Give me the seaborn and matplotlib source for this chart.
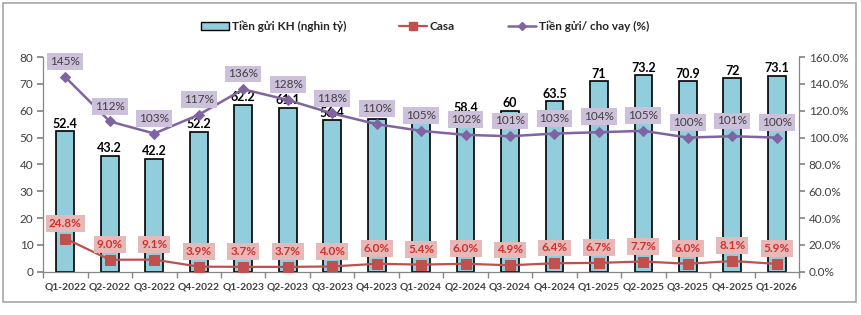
import numpy as np
import pandas as pd
import matplotlib.pyplot as plt
import matplotlib.ticker as mticker
from matplotlib.patches import Rectangle, Patch
from matplotlib.lines import Line2D
import seaborn as sns

quarters = ["Q1-2022", "Q2-2022", "Q3-2022", "Q4-2022", "Q1-2023", "Q2-2023",
            "Q3-2023", "Q4-2023", "Q1-2024", "Q2-2024", "Q3-2024", "Q4-2024",
            "Q1-2025", "Q2-2025", "Q3-2025", "Q4-2025", "Q1-2026"]
deposits = [52.4, 43.2, 42.2, 52.2, 62.2, 61.1, 56.4, 56.9, 55.4, 58.4, 60,
            63.5, 71, 73.2, 70.9, 72, 73.1]
# value labels as printed; two are hidden behind the ratio boxes in the source
deposit_labels = ["52.4", "43.2", "42.2", "52.2", "62.2", "61.1", "56.4", "",
                  "", "58.4", "60", "63.5", "71", "73.2", "70.9", "72", "73.1"]
casa = [24.8, 9.0, 9.1, 3.9, 3.7, 3.7, 4.0, 6.0, 5.4, 6.0, 4.9, 6.4, 6.7,
        7.7, 6.0, 8.1, 5.9]
ldr = [145, 112, 103, 117, 136, 128, 118, 110, 105, 102, 101, 103, 104, 105,
       100, 101, 100]

df = pd.DataFrame({"quarter": quarters, "deposits": deposits,
                   "casa": casa, "ldr": ldr})
df["pos"] = np.arange(len(df))

sns.set_theme(style="white")
plt.rcParams["font.family"] = ["Lato", "Noto Sans", "DejaVu Sans"]

BAR_C = "#92CDDC"
CASA_C = "#C0504D"
LDR_C = "#8064A2"
AXIS_C = "#868686"
TXT_C = "#404040"

fig = plt.figure(figsize=(8.62, 3.15), dpi=100)
ax = fig.add_axes([0.050, 0.137, 0.877, 0.682])

sns.barplot(data=df, x="quarter", y="deposits", color=BAR_C, saturation=1,
            edgecolor="black", linewidth=1.2, width=0.4, ax=ax, zorder=2)
for i, (v, lab) in enumerate(zip(deposits, deposit_labels)):
    if lab:
        ax.annotate(lab, (i, v), xytext=(0, 1), textcoords="offset points",
                    ha="center", va="bottom", fontsize=9, fontweight="bold",
                    color="black")

ax.set_xlim(-0.5, len(quarters) - 0.5)
ax.set_ylim(0, 80)
ax.set_yticks(range(0, 81, 10))
ax.set_xlabel("")
ax.set_ylabel("")

ax2 = ax.twinx()
sns.lineplot(data=df, x="pos", y="casa", color=CASA_C, marker="s",
             markersize=7, markeredgecolor=CASA_C, linewidth=1.6, ax=ax2)
sns.lineplot(data=df, x="pos", y="ldr", color=LDR_C, marker="D",
             markersize=5, markeredgecolor=LDR_C, linewidth=1.8, ax=ax2)
ax2.set_ylim(0, 160)
ax2.set_yticks(range(0, 161, 20))
ax2.yaxis.set_major_formatter(mticker.FuncFormatter(lambda v, p: f"{v:.1f}%"))
ax2.set_xlim(-0.5, len(quarters) - 0.5)
ax2.set_xlabel("")
ax2.set_ylabel("")

for i, v in enumerate(ldr):
    ax2.annotate(f"{v}%", (i, v), xytext=(0, 11), textcoords="offset points",
                 ha="center", va="center", fontsize=8.5, color=TXT_C,
                 bbox=dict(boxstyle="square,pad=0.25", fc="#CCC0DA", ec="none"))
for i, v in enumerate(casa):
    ax2.annotate(f"{v:.1f}%", (i, v), xytext=(0, 11), textcoords="offset points",
                 ha="center", va="center", fontsize=8.5, fontweight="bold",
                 color="#D0312D",
                 bbox=dict(boxstyle="square,pad=0.25", fc="#E6B9B8", ec="none"))

# axes styling, excel-like
for a in (ax, ax2):
    a.spines["top"].set_visible(False)
    for s in ("left", "right", "bottom"):
        a.spines[s].set_color(AXIS_C)
        a.spines[s].set_linewidth(0.9)
ax.spines["right"].set_visible(False)
ax2.spines["left"].set_visible(False)
ax2.spines["bottom"].set_visible(False)

ax.tick_params(axis="y", left=True, length=4, color=AXIS_C, labelsize=8.5,
               labelcolor=TXT_C, pad=3)
ax2.tick_params(axis="y", right=True, length=4, color=AXIS_C, labelsize=8.5,
                labelcolor=TXT_C, pad=3)
ax.set_xticks(np.arange(len(quarters)))
ax.set_xticklabels(quarters, fontsize=7.4, fontweight="bold", color=TXT_C)
ax.set_xticks(np.arange(-0.5, len(quarters), 1), minor=True)
ax.tick_params(axis="x", which="major", length=0, pad=8)
ax.tick_params(axis="x", which="minor", bottom=True, length=4, color=AXIS_C)
ax2.tick_params(axis="x", bottom=False, labelbottom=False)

handles = [
    Patch(facecolor=BAR_C, edgecolor="black", linewidth=1.0),
    Line2D([], [], color=CASA_C, marker="s", markersize=6, linewidth=1.6),
    Line2D([], [], color=LDR_C, marker="D", markersize=4.5, linewidth=1.8),
]
labels = ["Tiền gửi KH (nghìn tỷ)", "Casa", "Tiền gửi/ cho vay (%)"]
fig.legend(handles, labels, loc="center", bbox_to_anchor=(0.493, 0.917),
           ncol=3, frameon=False, columnspacing=4.5,
           handlelength=2.4, handletextpad=0.2,
           prop={"weight": "bold", "size": 8.5})

fig.patches.append(Rectangle((3 / 862, 1 - 302 / 315), 853 / 862, 299 / 315,
                             transform=fig.transFigure, fill=False,
                             edgecolor="#A6A6A6", linewidth=1.2))

fig.savefig("out.png", dpi=100)
